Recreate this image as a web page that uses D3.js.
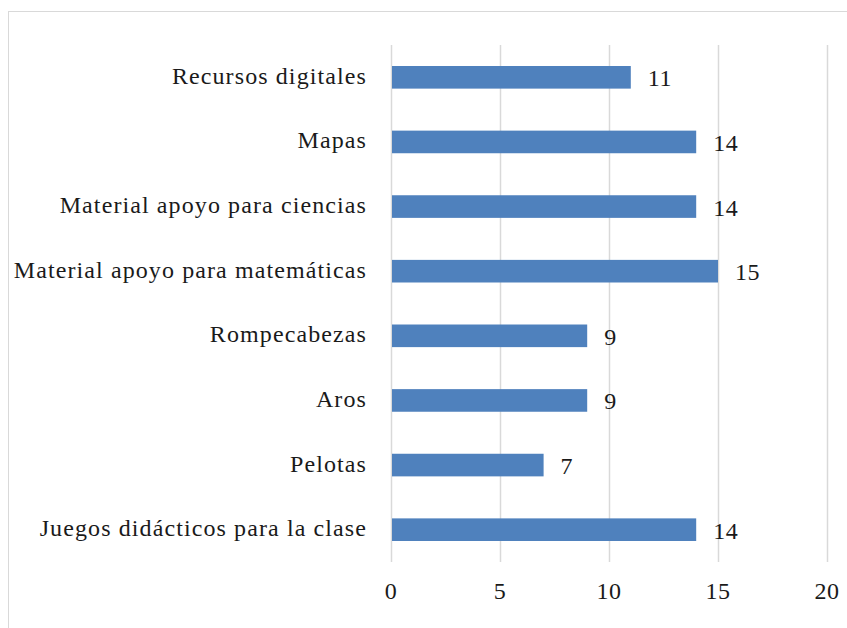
<!DOCTYPE html>
<html><head><meta charset="utf-8">
<script src="https://cdn.jsdelivr.net/npm/d3@7"></script>
<style>body{margin:0;background:#fff}svg{display:block}</style>
</head><body>
<script>
const categories = ["Recursos digitales","Mapas","Material apoyo para ciencias","Material apoyo para matemáticas","Rompecabezas","Aros","Pelotas","Juegos didácticos para la clase"];
const values = [11,14,14,15,9,9,7,14];
const tickValues = [0,5,10,15,20];

const W = 847, H = 628;
const svg = d3.select("body").append("svg").attr("width", W).attr("height", H);
const font = "Liberation Serif";
const fs = 24;

svg.append("rect").attr("x", 8.5).attr("y", 11.5).attr("width", 900).attr("height", 700)
  .attr("fill", "none").attr("stroke", "#d9d9d9").attr("stroke-width", 1);

const x = d3.scaleLinear().domain([0, 20]).range([391, 827]);
const y = d3.scaleBand().domain(categories).range([45, 562]).paddingInner(0.65).paddingOuter(0.325);

svg.append("g").selectAll("line").data(tickValues).join("line")
  .attr("x1", d => Math.round(x(d)) + 0.5).attr("x2", d => Math.round(x(d)) + 0.5)
  .attr("y1", 45).attr("y2", 562).attr("stroke", "#d9d9d9").attr("stroke-width", 1.5);

svg.append("g").selectAll("rect").data(values).join("rect")
  .attr("x", x(0) + 1).attr("y", (d, i) => y(categories[i]))
  .attr("width", d => x(d) - x(0) - 1).attr("height", y.bandwidth())
  .attr("fill", "#4f81bd");

svg.append("g").selectAll("text").data(values).join("text")
  .attr("x", d => x(d) + 17).attr("y", (d, i) => y(categories[i]) + y.bandwidth() / 2 + 9)
  .attr("font-family", font).attr("font-size", fs).attr("fill", "#1a1a1a")
  .attr("letter-spacing", 0.5)
  .text(d => d);

svg.append("g").selectAll("text").data(categories).join("text")
  .attr("x", 367).attr("y", d => y(d) + y.bandwidth() / 2 + 6.5)
  .attr("text-anchor", "end").attr("font-family", font).attr("font-size", fs).attr("fill", "#1a1a1a")
  .attr("letter-spacing", 1.1)
  .text(d => d);

svg.append("g").selectAll("text").data(tickValues).join("text")
  .attr("x", d => x(d)).attr("y", 599)
  .attr("text-anchor", "middle").attr("font-family", font).attr("font-size", fs).attr("fill", "#1a1a1a")
  .attr("letter-spacing", 0.5)
  .text(d => d);
</script>
</body></html>
